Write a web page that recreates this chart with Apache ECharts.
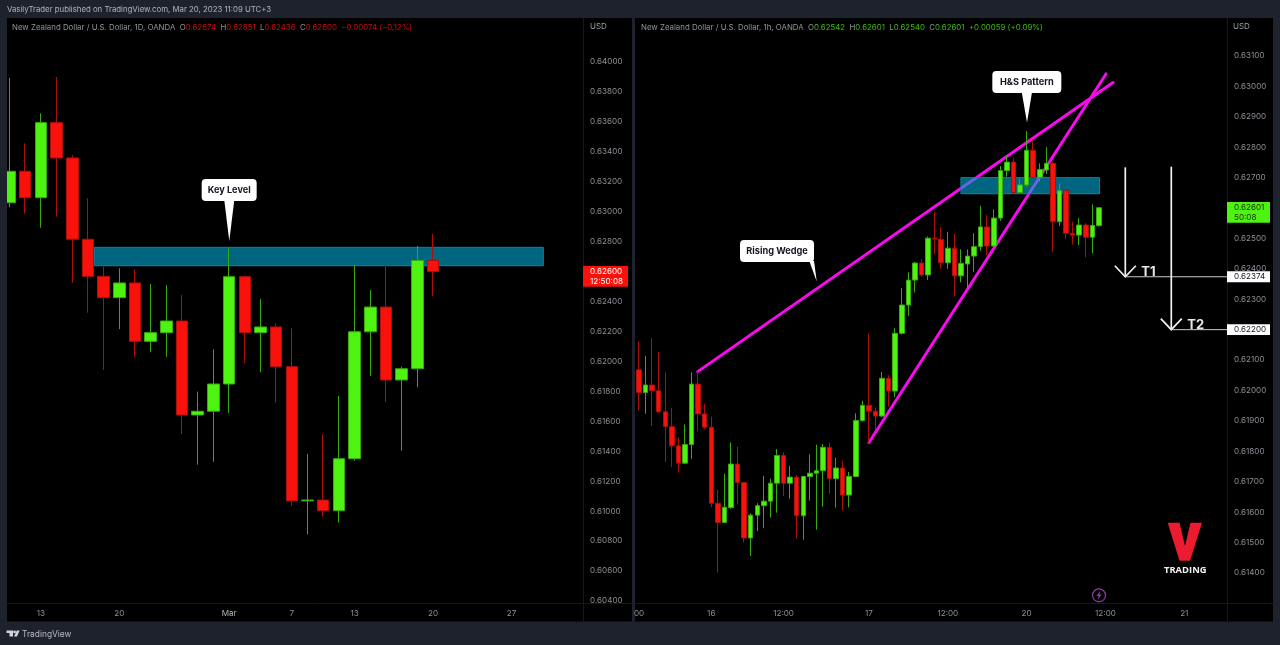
<!DOCTYPE html>
<html>
<head>
<meta charset="utf-8">
<style>html,body{margin:0;padding:0;background:#1e222d}#c{width:1280px;height:645px}</style>
<script src="https://cdn.jsdelivr.net/npm/echarts@6/dist/echarts.min.js"></script>
</head>
<body>
<div id="c"></div>
<script>
// ---- daily chart: [open, close, low, high]
const dailyCandles = [
[.63060,.63270,.63029,.63893],[.63270,.63094,.62987,.63457],[.63094,.63595,.62893,.63657],[.63595,.63359,.62967,.63900],
[.63359,.62816,.62526,.63379],[.62816,.62568,.62325,.63090],[.62568,.62426,.61943,.62633],[.62426,.62524,.62216,.62622],
[.62524,.62134,.62031,.62615],[.62134,.62192,.62061,.62517],[.62192,.62270,.62031,.62510],[.62270,.61642,.61515,.62444],
[.61642,.61667,.61310,.61798],[.61667,.61849,.61330,.62081],[.61849,.62566,.61657,.62755],[.62566,.62192,.61987,.62570],
[.62192,.62230,.61927,.62417],[.62230,.61965,.61724,.62255],[.61965,.61068,.61036,.62221],[.61068,.61074,.60845,.61381],
[.61074,.61003,.60963,.61513],[.61003,.61350,.60923,.61769],[.61350,.62198,.61337,.62644],[.62198,.62363,.61903,.62477],
[.62363,.61876,.61729,.62644],[.61876,.61951,.61404,.61965],[.61951,.62674,.61827,.62771],[.62674,.62600,.62436,.62851]
];
const dailyTickIndex = [2,7,14,18,22,27,32];
const dailyTickLabels = ['13','20','Mar','7','13','20','27'];
const dailyPriceTicks = [.640,.638,.636,.634,.632,.630,.628,.626,.624,.622,.620,.618,.616,.614,.612,.610,.608,.606,.604];
const keyLevelZone = [5.41,34.03,.62762,.62639];
const keyLevelCallout = [14.01,.62804];
const dailyLastPrice = .62600;

// ---- hourly chart: [open, close, low, high]
const hourlyCandles = [
[.62068,.61993,.61934,.62161],[.61993,.62018,.61923,.62114],[.62018,.61999,.61883,.62172],[.61999,.61930,.61927,.62127],
[.61930,.61881,.61765,.62059],[.61881,.61818,.61748,.61942],[.61818,.61761,.61730,.61846],[.61761,.61822,.61758,.61888],
[.61822,.62021,.61775,.62059],[.62021,.61923,.61865,.62062],[.61923,.61879,.61873,.61955],[.61879,.61629,.61616,.61914],
[.61629,.61566,.61401,.61673],[.61566,.61616,.61566,.61726],[.61615,.61758,.61611,.61829],[.61758,.61697,.61625,.61815],
[.61697,.61515,.61500,.61697],[.61515,.61590,.61456,.61596],[.61590,.61621,.61537,.61629],[.61621,.61636,.61547,.61719],
[.61636,.61695,.61582,.61710],[.61695,.61786,.61598,.61807],[.61786,.61695,.61653,.61796],[.61695,.61715,.61644,.61752],
[.61715,.61588,.61513,.61722],[.61588,.61717,.61509,.61719],[.61717,.61728,.61638,.61790],[.61728,.61736,.61542,.61822],
[.61736,.61813,.61618,.61824],[.61813,.61710,.61660,.61829],[.61710,.61745,.61615,.61779],[.61745,.61656,.61605,.61769],
[.61656,.61717,.61616,.61732],[.61717,.61901,.61715,.61925],[.61901,.61951,.61897,.61966],[.61951,.61932,.61829,.62188],
[.61932,.61916,.61870,.61944],[.61916,.62040,.61912,.62061],[.62040,.61998,.61947,.62050],[.61998,.62188,.61978,.62205],
[.62188,.62281,.62184,.62337],[.62281,.62363,.62246,.62389],[.62363,.62419,.62322,.62423],[.62419,.62380,.62374,.62432],
[.62380,.62501,.62363,.62506],[.62501,.62498,.62449,.62588],[.62497,.62420,.62400,.62537],[.62420,.62468,.62400,.62522],
[.62468,.62377,.62309,.62515],[.62377,.62418,.62356,.62464],[.62416,.62442,.62336,.62464],[.62442,.62473,.62390,.62517],
[.62473,.62538,.62460,.62607],[.62538,.62475,.62446,.62577],[.62475,.62567,.62468,.62596],[.62567,.62723,.62558,.62738],
[.62723,.62751,.62703,.62774],[.62751,.62651,.62645,.62764],[.62651,.62676,.62649,.62698],[.62676,.62790,.62670,.62853],
[.62790,.62701,.62700,.62824],[.62701,.62727,.62687,.62747],[.62725,.62747,.62712,.62800],[.62747,.62555,.62456,.62752],
[.62555,.62657,.62541,.62681],[.62657,.62517,.62498,.62660],[.62517,.62511,.62480,.62555],[.62511,.62544,.62478,.62567],
[.62544,.62504,.62438,.62550],[.62504,.62543,.62451,.62612],[.62542,.62601,.62540,.62601]
];
const hourlyTickIndex = [0,11,22,35,47,59,71,83];
const hourlyTickLabels = ['00','16','12:00','17','12:00','20','12:00','21'];
const hourlyPriceTicks = [.631,.630,.629,.628,.627,.626,.625,.624,.623,.622,.621,.620,.619,.618,.617,.616,.615,.614];
const wedgeUpper = [[8.93,.62062],[72.15,.63013]];
const wedgeLower = [[35.0,.61829],[71.08,.63041]];
const patternZone = [49.0,70.1,.62700,.62647];
const hsCallout = [59.06,.62881];
const wedgeCallout = [27.05,.62358];
const targetArrows = [[74.02,.62734,.62374,'T1'],[81.02,.62736,.62200,'T2']];
const hourlyLastPrice = .62601;

const FONT = 'Inter, "Noto Sans", sans-serif';
const GREEN = '#4ff311', RED = '#f9120c', GREEN_WICK = '#38ab0d', RED_WICK = '#ad0f0a';
const AXIS_TEXT = '#8c8f96', EDGE = '#16181d', PAGE_BG = '#1e222d';
const TICK_SIZE = 8.1;

const priceFmt = v => v.toFixed(5);
function candleSeries(rows, gi, width){
  return {type:'candlestick', xAxisIndex:gi, yAxisIndex:gi, z:3, barWidth:width, silent:true,
    data: rows.map((r,i)=>[i,r[0],r[1],r[2],r[3]]),
    itemStyle:{color:GREEN,color0:RED,borderColor:GREEN_WICK,borderColor0:RED_WICK,borderColorDoji:GREEN_WICK,borderWidth:1}};
}
function zoneSeries(zone, gi){
  return {type:'custom', xAxisIndex:gi, yAxisIndex:gi, z:2, silent:true, data:[zone],
    encode:{x:[0,1],y:[2,3]},
    renderItem(p,api){
      const a=api.coord([api.value(0),api.value(2)]), b=api.coord([api.value(1),api.value(3)]);
      return {type:'rect', shape:{x:a[0],y:a[1],width:b[0]-a[0],height:b[1]-a[1]},
        style:{fill:'rgba(0,168,213,0.6)',stroke:'#0c84a6',lineWidth:1}};
    }};
}
function calloutSeries(tip, text, box, gi){
  // box: offsets from the pointer tip, in screen pixels [left,right,top,bottom,baseLeft,baseRight]
  return {type:'custom', xAxisIndex:gi, yAxisIndex:gi, z:5, silent:true, data:[tip], encode:{x:0,y:1},
    renderItem(p,api){
      const c=api.coord([api.value(0),api.value(1)]), x=c[0], y=c[1];
      return {type:'group',children:[
        {type:'rect',shape:{x:x+box[0],y:y+box[2],width:box[1]-box[0],height:box[3]-box[2],r:4},style:{fill:'#fff'}},
        {type:'polygon',shape:{points:[[x+box[4],y+box[3]-1],[x+box[5],y+box[3]-1],[x,y]]},style:{fill:'#fff'}},
        {type:'text',style:{x:x+(box[0]+box[1])/2,y:y+(box[2]+box[3])/2,text,fill:'#131722',
          font:'bold 9.2px '+FONT,align:'center',verticalAlign:'middle'}}
      ]};
    }};
}
function wedgeSeries(points){
  return {type:'line', xAxisIndex:1, yAxisIndex:1, z:1, silent:true, data:points, showSymbol:false,
    symbol:'none', lineStyle:{color:'#fb08f0',width:3,cap:'round'}, animation:false};
}
function priceTag(price, lines, axisMax, gi, fill, textFill, w, h, dy){
  return {type:'custom', xAxisIndex:gi, yAxisIndex:gi, z:6, silent:true, data:[[axisMax,price]], encode:{x:0,y:1},
    renderItem(p,api){
      const c=api.coord([api.value(0),api.value(1)]);
      const kids=[{type:'rect',shape:{x:c[0],y:c[1]+dy,width:w,height:h},style:{fill}}];
      lines.forEach((t,i)=>kids.push({type:'text',style:{x:c[0]+7,y:c[1]+dy+h/(lines.length*2)+i*h/lines.length,
        text:t,fill:textFill,font:TICK_SIZE+'px '+FONT,align:'left',verticalAlign:'middle'}}));
      return {type:'group',children:kids};
    }};
}
function arrowSeries(){
  return {type:'custom', xAxisIndex:1, yAxisIndex:1, z:4, silent:true,
    data:targetArrows.map(a=>a.slice(0,3)), encode:{x:0,y:[1,2]},
    renderItem(p,api){
      const top=api.coord([api.value(0),api.value(1)]), tip=api.coord([api.value(0),api.value(2)]);
      const end=api.coord([hourlyX[1],api.value(2)]);
      const s={stroke:'#f0f0f0',lineWidth:1.7,fill:null};
      return {type:'group',children:[
        {type:'line',shape:{x1:top[0],y1:top[1],x2:tip[0],y2:tip[1]},style:s},
        {type:'polyline',shape:{points:[[tip[0]-10.5,tip[1]-11],[tip[0],tip[1]],[tip[0]+10.5,tip[1]-11]]},style:s},
        {type:'line',shape:{x1:tip[0],y1:tip[1],x2:end[0],y2:tip[1]},style:{stroke:'#c9c9c9',lineWidth:1}},
        {type:'text',style:{x:tip[0]+16,y:tip[1]-5,text:targetArrows[p.dataIndex][3],fill:'#e8e8e8',
          font:'bold 13px '+FONT,align:'left',verticalAlign:'middle'}}
      ]};
    }};
}
const dailyX=[-0.16,36.56], hourlyX=[-0.61,89.5];
function xAxis(range, ticks, labels, gi){
  return {type:'value', gridIndex:gi, min:range[0], max:range[1], scale:true, splitLine:{show:false},
    axisLine:{show:false}, axisTick:{show:false},
    axisLabel:{customValues:ticks, hideOverlap:false, margin:6.5, color:AXIS_TEXT, fontFamily:FONT, fontSize:TICK_SIZE,
      formatter:v=>{const s=labels[ticks.indexOf(v)];return s==='Mar'?'{m|Mar}':s;},
      rich:{m:{color:'#b2b5be',fontFamily:FONT,fontSize:TICK_SIZE}}}};
}
function yAxis(range, ticks, gi){
  return {type:'value', gridIndex:gi, position:'right', min:range[0], max:range[1], scale:true, splitLine:{show:false},
    axisLine:{show:false}, axisTick:{show:false},
    axisLabel:{customValues:ticks, hideOverlap:false, margin:7, padding:[2,0,0,0], color:AXIS_TEXT, fontFamily:FONT, fontSize:TICK_SIZE, formatter:priceFmt}};
}
function headerTitle(left, parts, rich){
  return {left, top:24, padding:0, text:parts, textStyle:{fontWeight:'normal',rich}};
}
const richBase = {
  g:{color:'#8f9299',fontFamily:FONT,fontSize:7.85,fontWeight:'normal'},
  r:{color:'#c80d08',fontFamily:FONT,fontSize:7.85,fontWeight:'normal'},
  u:{color:'#3dbd0d',fontFamily:FONT,fontSize:7.85,fontWeight:'normal'}
};

const chart = echarts.init(document.getElementById('c'), null, {renderer:'canvas', width:1280, height:645});
chart.setOption({
  animation:false,
  backgroundColor:PAGE_BG,
  title:[
    {left:7,top:6,padding:0,text:'VasilyTrader published on TradingView.com, Mar 20, 2023 11:09 UTC+3',
      textStyle:{color:'#b2b5be',fontFamily:FONT,fontSize:7.8,fontWeight:'normal'}},
    headerTitle(12,'{g|New Zealand Dollar / U.S. Dollar, 1D, OANDA  O}{r|0.62674}{g|  H}{r|0.62851}{g|  L}{r|0.62436}{g|  C}{r|0.62600  −0.00074 (−0,12%)}',richBase),
    headerTitle(641,'{g|New Zealand Dollar / U.S. Dollar, 1h, OANDA  O}{u|0.62542}{g|  H}{u|0.62601}{g|  L}{u|0.62540}{g|  C}{u|0.62601  +0.00059 (+0.09%)}',richBase),
    {left:590,top:23,padding:0,text:'USD',textStyle:{color:'#9a9da4',fontFamily:FONT,fontSize:8,fontWeight:'normal'}},
    {left:1233,top:23,padding:0,text:'USD',textStyle:{color:'#9a9da4',fontFamily:FONT,fontSize:8,fontWeight:'normal'}},
    {left:22,top:630,padding:0,text:'TradingView',textStyle:{color:'#b8bbc4',fontFamily:FONT,fontSize:8.4,fontWeight:'normal'}},
    {left:1164,top:566,padding:0,text:'TRADING',textStyle:{color:'#f2f2f2',fontFamily:'"Open Sans", '+FONT,fontSize:9.4,fontWeight:'bold'}}
  ],
  grid:[
    {left:7,top:18,width:576,height:585,show:false},
    {left:635,top:18,width:592,height:585,show:false}
  ],
  xAxis:[xAxis(dailyX,dailyTickIndex,dailyTickLabels,0), xAxis(hourlyX,hourlyTickIndex,hourlyTickLabels,1)],
  yAxis:[yAxis([.60386,.64294],dailyPriceTicks,0), yAxis([.61301,.63225],hourlyPriceTicks,1)],
  series:[
    zoneSeries(keyLevelZone,0),
    candleSeries(dailyCandles,0,12),
    calloutSeries(keyLevelCallout,'Key Level',[-27.6,27.4,-62,-40,-5,5],0),
    priceTag(dailyLastPrice,['0.62600','12:50:08'],dailyX[1],0,'#f9120c','#fff',45,20.7,-5.6),
    wedgeSeries(wedgeUpper), wedgeSeries(wedgeLower),
    zoneSeries(patternZone,1),
    candleSeries(hourlyCandles,1,5),
    calloutSeries(hsCallout,'H&S Pattern',[-34.7,34.3,-51.7,-29.7,-5.3,5],1),
    calloutSeries(wedgeCallout,'Rising Wedge',[-76.7,-2.7,-41.7,-19.7,-7.4,-2.7],1),
    arrowSeries(),
    priceTag(hourlyLastPrice,['0.62601','50:08'],hourlyX[1],1,'#4ff311','#1a2a12',43,20.7,-5.8),
    priceTag(targetArrows[0][2],['0.62374'],hourlyX[1],1,'#fff','#131722',43,10.8,-5.4),
    priceTag(targetArrows[1][2],['0.62200'],hourlyX[1],1,'#fff','#131722',43,10.8,-5.4)
  ],
  graphic:{elements:[
    {type:'rect',z:-1,silent:true,shape:{x:7,y:18,width:625,height:603.5},style:{fill:'#000'}},
    {type:'rect',z:-1,silent:true,shape:{x:635,y:18,width:638,height:603.5},style:{fill:'#000'}},
    {type:'line',z:-1,silent:true,shape:{x1:7,y1:603.5,x2:632,y2:603.5},style:{stroke:EDGE,lineWidth:1}},
    {type:'line',z:-1,silent:true,shape:{x1:635,y1:603.5,x2:1273,y2:603.5},style:{stroke:EDGE,lineWidth:1}},
    {type:'line',z:-1,silent:true,shape:{x1:583.5,y1:18,x2:583.5,y2:621.5},style:{stroke:EDGE,lineWidth:1}},
    {type:'line',z:-1,silent:true,shape:{x1:1227.5,y1:18,x2:1227.5,y2:621.5},style:{stroke:EDGE,lineWidth:1}},
    // pane edge: hides the part of the first daily candle that falls left of the pane
    {type:'rect',z:20,silent:true,shape:{x:0,y:18,width:7,height:604},style:{fill:PAGE_BG}},
    // V logo
    {type:'polygon',z:10,silent:true,shape:{points:[[1167.7,522.7],[1179.5,522.7],[1185,546],[1190.5,522.7],[1202,522.7],[1190,560.7],[1179.5,560.7]]},style:{fill:'#ed1b30'}},
    // lightning badge
    {type:'circle',z:10,silent:true,shape:{cx:1099,cy:595.3,r:6.5},style:{fill:'rgba(0,0,0,0)',stroke:'#8e3aa8',lineWidth:1.2}},
    {type:'polygon',z:10,silent:true,shape:{points:[[1100.6,590.5],[1096.4,596],[1098.8,596],[1097.6,600],[1101.8,594.5],[1099.4,594.5]]},style:{fill:'#8e3aa8'}},
    // TradingView mark
    {type:'polygon',z:10,silent:true,shape:{points:[[6.5,630.5],[13,630.5],[13,636.5],[9.5,636.5],[9.5,633],[6.5,633]]},style:{fill:'#d1d4dc'}},
    {type:'circle',z:10,silent:true,shape:{cx:14.6,cy:631.9,r:1.4},style:{fill:'#d1d4dc'}},
    {type:'polygon',z:10,silent:true,shape:{points:[[14,636.5],[16.8,630.5],[19.6,630.5],[17,636.5]]},style:{fill:'#d1d4dc'}}
  ]}
});
</script>
</body>
</html>
